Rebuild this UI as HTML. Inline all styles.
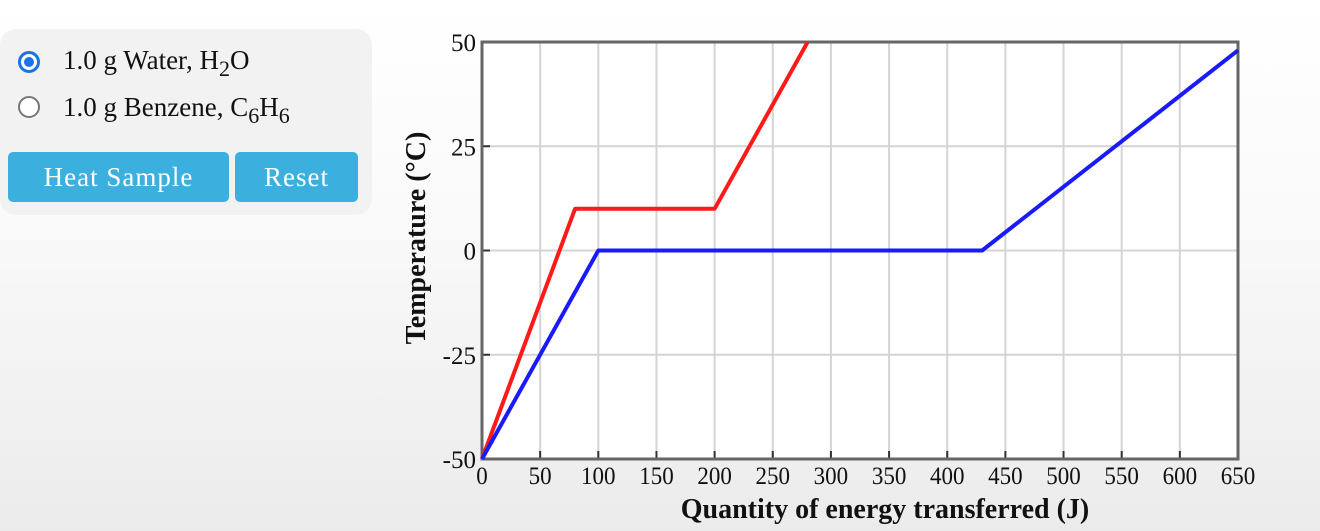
<!DOCTYPE html>
<html><head><meta charset="utf-8"><style>
body{margin:0;width:1320px;height:531px;overflow:hidden;background:linear-gradient(#fff 0%,#fafafa 40%,#ebebeb 100%);font-family:"Liberation Serif",serif;position:relative}
#panel{position:absolute;left:0;top:29px;width:372px;height:186px;background:#f2f2f2;border-radius:16px}
.radio{position:absolute;left:18px;width:22px;height:22px;border-radius:50%;box-sizing:border-box}
.lbl{position:absolute;left:63px;font-size:27px;color:#111;white-space:nowrap}
.btn{position:absolute;top:123px;height:50px;background:#3bb0df;color:#fff;border-radius:5px;font-size:27px;letter-spacing:1px;display:flex;align-items:center;justify-content:center}
sub{font-size:22px;vertical-align:-7px;line-height:0}
</style></head><body>
<div id="panel">
<div class="radio" style="top:22px;border:3px solid #1a73e8;background:#fff"><div style="position:absolute;left:3px;top:3px;width:10px;height:10px;border-radius:50%;background:#1a73e8"></div></div>
<div class="lbl" style="top:16px">1.0 g Water, H<sub>2</sub>O</div>
<div class="radio" style="top:67px;border:2px solid #777;background:#fff"></div>
<div class="lbl" style="top:63px">1.0 g Benzene, C<sub>6</sub>H<sub>6</sub></div>
<div class="btn" style="left:8px;width:221px">Heat Sample</div>
<div class="btn" style="left:235px;width:123px">Reset</div>
</div>
<svg id="chart" width="1320" height="531" style="position:absolute;left:0;top:0"></svg>
<script>
const xTicks=[0,50,100,150,200,250,300,350,400,450,500,550,600,650];
const yTicks=[-50,-25,0,25,50];
const benzeneX=[0,80,200,280];
const benzeneY=[-50,10,10,50];
const waterX=[0,100,430,650];
const waterY=[-50,0,0,48];
const L=482,R=1238,T=42,B=459;
const sx=v=>L+(v-0)/(650-0)*(R-L);
const sy=v=>B-(v+50)/100*(B-T);
const svg=document.getElementById('chart');
const NS='http://www.w3.org/2000/svg';
function mk(t,a){const e=document.createElementNS(NS,t);for(const k in a)e.setAttribute(k,a[k]);svg.appendChild(e);return e;}
const bg=mk('rect',{x:L,y:T,width:R-L,height:B-T,fill:'#fff'});


xTicks.forEach(v=>{
 const g=mk('line',{x1:sx(v),x2:sx(v),y1:T,y2:B,stroke:'#d4d4d4','stroke-width':2});
 
 
 const tk=mk('line',{x1:sx(v),x2:sx(v),y1:B-8,y2:B,stroke:'#333','stroke-width':2});
 
 
 const t=mk('text',{x:sx(v),y:B+25,'text-anchor':'middle','font-size':25,fill:'#111','font-family':'Liberation Serif',transform:`translate(${sx(v)},0) scale(0.92,1) translate(${-sx(v)},0)`});
 t.textContent=v;
 
 
});
yTicks.forEach(v=>{
 const g=mk('line',{x1:L,x2:R,y1:sy(v),y2:sy(v),stroke:'#d4d4d4','stroke-width':2});
 
 
 const tk=mk('line',{x1:L,x2:L+8,y1:sy(v),y2:sy(v),stroke:'#333','stroke-width':2});
 
 
 const t=mk('text',{x:L-6,y:sy(v)+9,'text-anchor':'end','font-size':25,fill:'#111','font-family':'Liberation Serif'});
 t.textContent=v;
 
 
});
const fr=mk('rect',{x:L,y:T,width:R-L,height:B-T,fill:'none',stroke:'#666','stroke-width':3});


function line(xs,ys,c,n){
 const p=mk('polyline',{points:xs.map((x,i)=>sx(x)+','+sy(ys[i])).join(' '),fill:'none',stroke:c,'stroke-width':4,'stroke-linejoin':'round'});
 
 
}
line(benzeneX,benzeneY,'#ff1a1a','benzene-line');
line(waterX,waterY,'#1a1aff','water-line');
const xt=mk('text',{x:885,y:518,'text-anchor':'middle','font-size':28,'font-weight':'bold',fill:'#111','font-family':'Liberation Serif'});
xt.textContent='Quantity of energy transferred (J)';


const yt=mk('text',{x:0,y:0,'text-anchor':'middle','font-size':28,'font-weight':'bold',fill:'#111','font-family':'Liberation Serif',transform:'translate(425,238) rotate(-90)'});
yt.textContent='Temperature (°C)';


</script>
</body></html>
